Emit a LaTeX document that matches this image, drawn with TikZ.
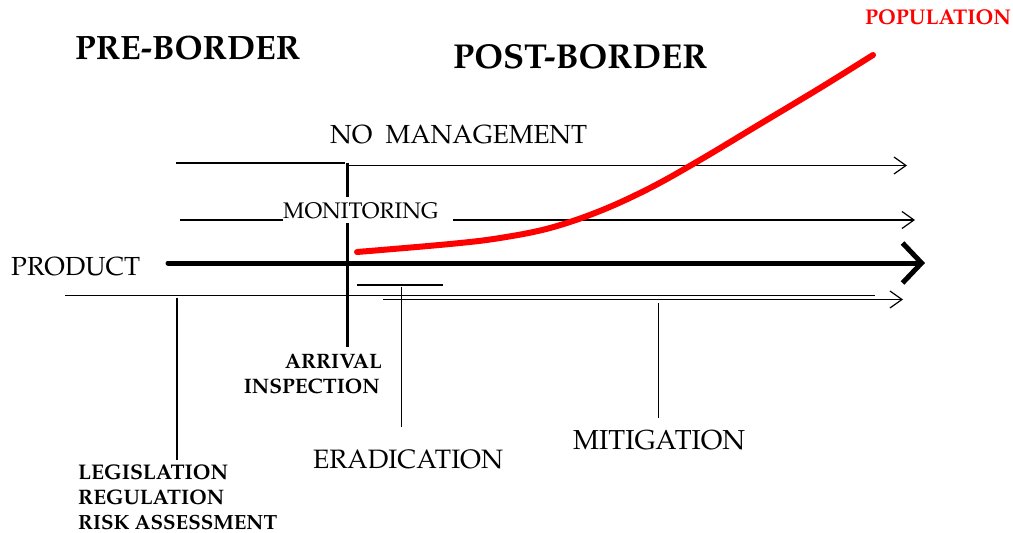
\documentclass[tikz,border=0pt]{standalone}
\usepackage[T1]{fontenc}
\renewcommand{\rmdefault}{ppl}
\usepackage{graphicx}
\usetikzlibrary{arrows.meta}
\newcommand{\fitw}[2]{\resizebox{#1pt}{!}{#2}}
\begin{document}
\begin{tikzpicture}[x=1pt,y=-1pt,
  thinline/.style={line width=1.2pt},
  thinarrow/.style={line width=1.2pt,-{Straight Barb[length=12pt,width=17pt,line width=1.2pt]}},
  bigarrow/.style={line width=5pt,line cap=round,-{Straight Barb[length=19pt,width=40pt,line width=5pt]}},
  border/.style={line width=3pt},
  lbl/.style={inner sep=0pt,anchor=west},
  rlbl/.style={inner sep=0pt,anchor=east},
  popcurve/.style={red,line width=6pt,line cap=round}]
\useasboundingbox (0,0) rectangle (1013,533);

% texts
\node[lbl] (pre) at (75,48) {\fitw{225}{\bfseries PRE-BORDER}};
\node[lbl] (post) at (453,57) {\fitw{254}{\bfseries POST-BORDER}};
\node[lbl,text=red] (pop) at (865,17) {\fitw{146}{\bfseries POPULATION}};
\node[lbl] (noman) at (330,135) {\fitw{257}{NO\ \ MANAGEMENT}};
\node[lbl] (mon) at (283,211) {\fitw{155}{MONITORING}};
\node[lbl] (prod) at (11,267) {\fitw{129}{PRODUCT}};
\node[rlbl] (arr) at (382,361) {\fitw{97}{\bfseries ARRIVAL}};
\node[rlbl] (insp) at (380,386) {\fitw{136}{\bfseries INSPECTION}};
\node[lbl] (erad) at (313,460) {\fitw{190}{ERADICATION}};
\node[lbl] (mit) at (573,440) {\fitw{172}{MITIGATION}};
\node[lbl] (leg) at (78,472) {\fitw{150}{\bfseries LEGISLATION}};
\node[lbl] (reg) at (78,497.5) {\fitw{146}{\bfseries REGULATION}};
\node[lbl] (risk) at (78,522.5) {\fitw{199}{\bfseries RISK ASSESSMENT}};

% coordinates
\coordinate (nmA) at (176,163);
\coordinate (nmB) at (345,163);
\coordinate (nmC) at (347,165.5);
\coordinate (nmD) at (907,165.5);
\coordinate (moA) at (180,220);
\coordinate (moC) at (453,220);
\coordinate (moD) at (915,220);
\coordinate (prA) at (168,263);
\coordinate (prB) at (925,263);
\coordinate (bdA) at (347.5,163);
\coordinate (bdB) at (347.5,197);
\coordinate (bdC) at (347.5,223);
\coordinate (bdD) at (347.5,347);
\coordinate (lgA) at (65,295.5);
\coordinate (lgB) at (875,295.5);
\coordinate (miA) at (383,299.5);
\coordinate (miB) at (903,299.5);
\coordinate (erA) at (357,285);
\coordinate (erB) at (443,285);
\coordinate (erC) at (401.5,287);
\coordinate (erD) at (401.5,427);
\coordinate (leA) at (177,298);
\coordinate (leB) at (177,460);
\coordinate (mtA) at (658.5,303);
\coordinate (mtB) at (658.5,418);

% no management
\draw[thinline] (nmA) -- (nmB);
\draw[thinarrow] (nmC) -- (nmD);
% monitoring
\draw[thinline] (moA) -- (moA -| mon.west);
\draw[thinarrow] (moC) -- (moD);
% product
\draw[bigarrow] (prA) -- (prB);
% border
\draw[border] (bdA) -- (bdB);
\draw[border] (bdC) -- (bdD);
% legislation / mitigation lines
\draw[thinline] (lgA) -- (lgB);
\draw[thinarrow] (miA) -- (miB);
% eradication
\draw[thinline] (erA) -- (erB);
\draw[thinline] (erC) -- (erD);
% pointers
\draw[thinline] (leA) -- (leB);
\draw[thinline] (mtA) -- (mtB);

% population curve
\draw[popcurve] plot[smooth,tension=0.6] coordinates {(357,252) (450,244) (500,238) (550,228) (600,211) (650,188) (700,160) (760,124) (820,88) (873,55)};
\end{tikzpicture}
\end{document}
